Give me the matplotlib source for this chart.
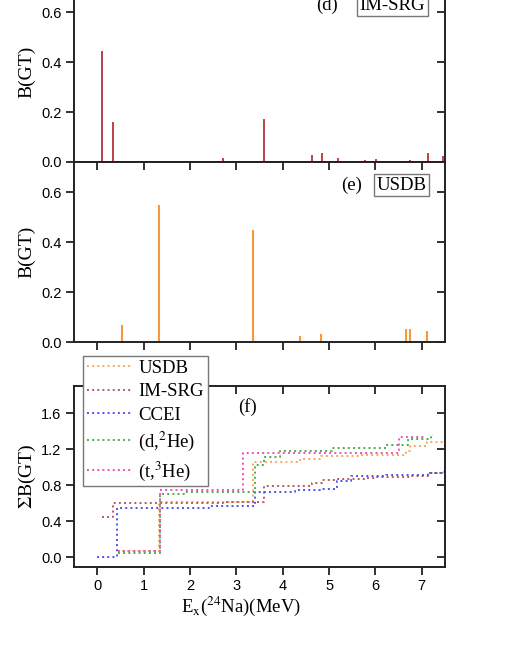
import matplotlib
matplotlib.use('Agg')
import matplotlib.pyplot as plt

plt.rcParams['font.family'] = 'Liberation Sans'
plt.rcParams['mathtext.fontset'] = 'stix'

# (d) IM-SRG strengths
imsrg_e = [0.11, 0.34, 2.72, 3.60, 4.39, 4.63, 4.85, 5.19, 5.78, 6.01, 6.75, 7.13, 7.45]
imsrg_b = [0.445, 0.161, 0.016, 0.173, 0.002, 0.029, 0.037, 0.016, 0.008, 0.011, 0.008, 0.036, 0.024]

# (e) USDB strengths
usdb_e = [0.54, 1.33, 3.35, 3.63, 4.37, 4.82, 5.19, 5.66, 6.21, 6.65, 6.75, 7.12]
usdb_b = [0.07, 0.548, 0.449, 0.003, 0.025, 0.033, 0.005, 0.004, 0.003, 0.051, 0.052, 0.045]

# (f) running sums
sum_usdb_x = [0.54, 1.33, 3.35, 4.37, 4.82, 5.66, 6.65, 6.75, 7.12, 7.5]
sum_usdb_y = [0.07, 0.615, 1.06, 1.09, 1.125, 1.13, 1.18, 1.235, 1.28, 1.28]
sum_imsrg_x = [0.11, 0.35, 2.72, 3.60, 4.63, 4.85, 5.19, 5.78, 6.01, 6.75, 7.13, 7.45, 7.5]
sum_imsrg_y = [0.445, 0.60, 0.615, 0.79, 0.82, 0.855, 0.87, 0.88, 0.89, 0.90, 0.93, 0.94, 0.94]
sum_ccei_x = [0.0, 0.42, 2.43, 3.40, 4.27, 4.80, 5.17, 5.48, 6.23, 7.13, 7.5]
sum_ccei_y = [0.0, 0.54, 0.57, 0.72, 0.75, 0.76, 0.85, 0.90, 0.915, 0.93, 0.93]
sum_d2he_x = [0.45, 1.35, 1.87, 3.40, 3.60, 3.94, 5.06, 6.23, 6.70, 7.20, 7.24]
sum_d2he_y = [0.044, 0.70, 0.72, 1.02, 1.11, 1.18, 1.21, 1.24, 1.31, 1.36, 1.36]
sum_t3he_x = [0.45, 1.35, 3.15, 6.50, 7.05]
sum_t3he_y = [0.07, 0.745, 1.16, 1.33, 1.33]

W, H = 518, 670
fig = plt.figure(figsize=(W / 100, H / 100), dpi=100)

def px_axes(left, top, right, bottom):
    return fig.add_axes([left / W, 1 - bottom / H, (right - left) / W, (bottom - top) / H])

ax1 = px_axes(74, -18, 445, 162)
ax2 = px_axes(74, 162, 445, 342)
ax3 = px_axes(74, 386, 445, 567)

serif = 'Liberation Serif'

for ax in (ax1, ax2, ax3):
    ax.set_xlim(-0.5, 7.5)
    ax.set_xticks(range(0, 8))
    for s in ax.spines.values():
        s.set_linewidth(1.4)
        s.set_color('#222222')
    ax.tick_params(axis='both', which='major', length=5.5, width=1.3, labelsize=10.5,
                   color='#222222')
    ax.tick_params(axis='x', top=True, direction='out')
    ax.tick_params(axis='y', right=True, direction='out')
    for t in ax.yaxis.get_major_ticks():
        t.tick2line.set_marker(matplotlib.markers.TICKLEFT)
    for t in ax.xaxis.get_major_ticks():
        t.tick2line.set_marker(matplotlib.markers.TICKDOWN)

# (d)
ax1.vlines(imsrg_e, 0, imsrg_b, color='#b8323c', lw=1.3)
ax1.set_ylim(0, 0.72)
ax1.set_yticks([0.0, 0.2, 0.4, 0.6])
ax1.set_xticklabels([])
ax1.set_ylabel('B(GT)', family=serif, fontsize=14, labelpad=4)
ax1.text(0.712, 0.872, '(d)', transform=ax1.transAxes, family=serif, fontsize=13.5,
         ha='right', va='center')
ax1.text(0.858, 0.872, 'IM-SRG', transform=ax1.transAxes, family=serif, fontsize=13.5,
         ha='center', va='center',
         bbox=dict(boxstyle='square,pad=0.15', fc='white', ec='#777777', lw=1))

# (e)
ax2.vlines(usdb_e, 0, usdb_b, color='#f49a3a', lw=1.5)
ax2.set_ylim(0, 0.72)
ax2.set_yticks([0.0, 0.2, 0.4, 0.6])
ax2.set_xticklabels([])
ax2.set_ylabel('B(GT)', family=serif, fontsize=14, labelpad=4)
ax2.text(0.776, 0.872, '(e)', transform=ax2.transAxes, family=serif, fontsize=13.5,
         ha='right', va='center')
ax2.text(0.883, 0.872, 'USDB', transform=ax2.transAxes, family=serif, fontsize=13.5,
         ha='center', va='center',
         bbox=dict(boxstyle='square,pad=0.15', fc='white', ec='#777777', lw=1))

# (f)
lw = 1.4
h1, = ax3.step(sum_usdb_x, sum_usdb_y, where='post', ls=':', color='#f7a85c', lw=lw)
h2, = ax3.step(sum_imsrg_x, sum_imsrg_y, where='post', ls=':', color='#b55a5a', lw=lw)
h3, = ax3.step(sum_ccei_x, sum_ccei_y, where='post', ls=':', color='#5050f0', lw=lw)
h4, = ax3.step(sum_d2he_x, sum_d2he_y, where='post', ls=':', color='#45b045', lw=lw)
h5, = ax3.step(sum_t3he_x, sum_t3he_y, where='post', ls=':', color='#f050b8', lw=lw)
ax3.set_ylim(-0.11, 1.9)
ax3.set_yticks([0.0, 0.4, 0.8, 1.2, 1.6])
ax3.set_yticklabels(['0.0', '0.4', '0.8', '1.2', '1.6'])
ax3.set_ylabel(r'$\Sigma$B(GT)', family=serif, fontsize=14, labelpad=2)
ax3.text(0.468, 0.884, '(f)', transform=ax3.transAxes, family=serif, fontsize=13.5,
         ha='center', va='center')

leg = fig.legend([h1, h2, h3, h4, h5],
                 ['USDB', 'IM-SRG', 'CCEI', r'(d,$^{2}$He)', r'(t,$^{3}$He)'],
                 loc='upper left', bbox_to_anchor=(83 / W, 1 - 356 / H),
                 prop={'family': serif, 'size': 13.5}, frameon=True, fancybox=False,
                 edgecolor='#777777', framealpha=1, handlelength=2.4,
                 handletextpad=0.35, labelspacing=0.33, borderpad=0.2,
                 borderaxespad=0)
leg.get_frame().set_linewidth(1)

fig.text(241 / W, 1 - 606 / H, r'E$_{\rm x}$($^{24}$Na)(MeV)', family=serif,
         fontsize=13.5, ha='center', va='center')

fig.savefig('out.png', dpi=100)
